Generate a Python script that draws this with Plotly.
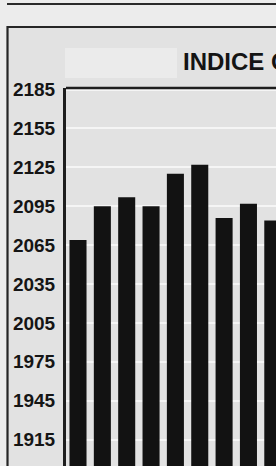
import plotly.graph_objects as go

# Data
periods = ["1", "2", "3", "4", "5", "6", "7", "8", "9"]
index_values = [2069, 2095, 2102, 2095, 2120, 2127, 2086, 2097, 2084]
tick_values = [1915, 1945, 1975, 2005, 2035, 2065, 2095, 2125, 2155, 2185]
tick_labels = [str(v) for v in tick_values]
title_text = "INDICE C"

W, H = 276, 466
ML, MT = 66, 88
PW, PH = W - ML, H - MT


def px(x):
    return (x - ML) / PW


def py(y):
    return (H - y) / PH


fig = go.Figure()
fig.add_trace(go.Bar(
    x=periods, y=index_values,
    marker=dict(color="#121212", line=dict(width=0)),
    width=0.70,
    hoverinfo="x+y",
))

shapes = [
    # outer frame
    dict(type="rect", xref="paper", yref="paper",
         x0=px(7.5), x1=1.3, y0=-0.3, y1=py(27),
         line=dict(color="#262626", width=2.2), fillcolor="#e2e2e2", layer="below"),
    # light patch near title
    dict(type="rect", xref="paper", yref="paper",
         x0=px(65), x1=px(177), y0=py(78), y1=py(48),
         line=dict(width=0), fillcolor="#ebebeb", layer="below"),
    # top rule
    dict(type="line", xref="paper", yref="paper",
         x0=px(7), x1=1.3, y0=py(4), y1=py(4),
         line=dict(color="#2a2a2a", width=2), layer="above"),
    # top border of the plot area
    dict(type="line", xref="paper", yref="paper",
         x0=0, x1=1.3, y0=1, y1=1,
         line=dict(color="#1e1e1e", width=2.5), layer="above"),
]

fig.update_layout(
    width=W, height=H,
    margin=dict(l=ML, r=0, t=MT, b=0, pad=0),
    paper_bgcolor="#ececec",
    plot_bgcolor="#dfdfdf",
    showlegend=False,
    bargap=0.3,
    shapes=shapes,
    annotations=[dict(
        text=title_text, xref="paper", yref="paper",
        x=px(181), y=py(61), xanchor="left", yanchor="middle",
        showarrow=False,
        font=dict(family="Liberation Sans", size=24, weight="bold", color="#141414"),
    )],
    xaxis=dict(
        type="category", range=[-(78 - ML) / 24.35, (W - 78) / 24.35],
        showticklabels=False, showgrid=False, zeroline=False, showline=False,
        fixedrange=True,
    ),
    yaxis=dict(
        range=[1894.6, 2186.2],
        tickvals=tick_values, ticktext=tick_labels,
        showgrid=True, gridcolor="#f5f5f5", gridwidth=2,
        zeroline=False,
        showline=True, linecolor="#1e1e1e", linewidth=3,
        ticks="", ticklabelstandoff=4,
        tickfont=dict(family="Liberation Sans", size=19, weight="bold", color="#151515"),
        fixedrange=True,
    ),
)

fig.write_html(
    "out.html",
    config={"displayModeBar": False},
    post_script="document.body.style.margin='0';document.body.style.overflow='hidden';",
)
